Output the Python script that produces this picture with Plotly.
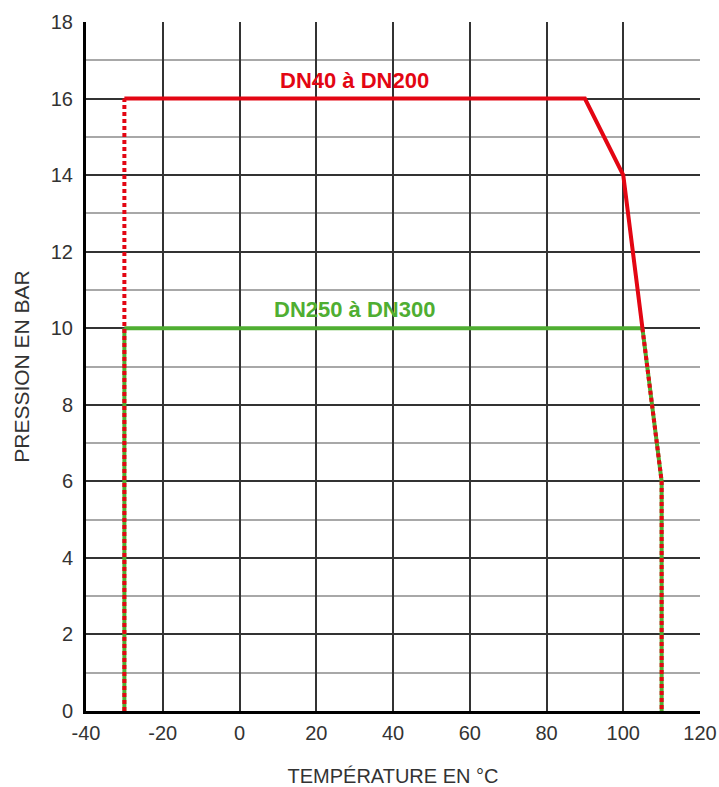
import plotly.graph_objects as go

# Data
red_temp = [-30, 90, 100, 105]
red_pres = [16, 16, 14, 10]
red_left_temp = [-30, -30]
red_left_pres = [0, 16]
red_right_temp = [105, 110, 110]
red_right_pres = [10, 6, 0]

green_temp = [-30, 105]
green_pres = [10, 10]
green_left_temp = [-30, -30]
green_left_pres = [0, 10]
green_right_temp = [105, 110, 110]
green_right_pres = [10, 6, 0]

x_ticks = [-40, -20, 0, 20, 40, 60, 80, 100, 120]
x_ticklabels = ["-40", "-20", "0", "20", "40", "60", "80", "100", "120"]
y_ticks = [0, 2, 4, 6, 8, 10, 12, 14, 16, 18]

RED = "#e30613"
GREEN = "#4fae32"
W = 4
DOT = "4px,3px"

fig = go.Figure()
fig.add_trace(go.Scatter(x=green_temp, y=green_pres, mode="lines",
                         line=dict(color=GREEN, width=W), showlegend=False))
fig.add_trace(go.Scatter(x=green_left_temp, y=green_left_pres, mode="lines",
                         line=dict(color=GREEN, width=W), showlegend=False))
fig.add_trace(go.Scatter(x=green_right_temp, y=green_right_pres, mode="lines",
                         line=dict(color=GREEN, width=W), showlegend=False))
fig.add_trace(go.Scatter(x=red_temp, y=red_pres, mode="lines",
                         line=dict(color=RED, width=W), showlegend=False))
fig.add_trace(go.Scatter(x=red_right_temp, y=red_right_pres, mode="lines",
                         line=dict(color=RED, width=W, dash=DOT), showlegend=False))
fig.add_trace(go.Scatter(x=red_left_temp, y=red_left_pres, mode="lines",
                         line=dict(color=RED, width=W, dash=DOT), showlegend=False))

fig.add_annotation(x=30, y=16, text="<b>DN40 à DN200</b>", showarrow=False,
                   yanchor="bottom", yshift=4, font=dict(family="Arial", size=22, color=RED))
fig.add_annotation(x=30, y=10, text="<b>DN250 à DN300</b>", showarrow=False,
                   yanchor="bottom", yshift=4, font=dict(family="Arial", size=22, color=GREEN))

fig.update_layout(
    width=719, height=787,
    margin=dict(l=86, r=19, t=22, b=76),
    paper_bgcolor="white", plot_bgcolor="white",
    font=dict(family="Arial", size=20, color="#333333"),
    xaxis=dict(range=[-40, 120], tickvals=x_ticks, ticktext=x_ticklabels, showgrid=True,
               gridcolor="#333333", gridwidth=1.5, zeroline=False,
               showline=True, linecolor="black", linewidth=3,
               ticks="", ticklabelstandoff=2, automargin=False,
               tickfont=dict(size=20, color="#333333"),
               title=dict(text="TEMPÉRATURE EN °C", font=dict(size=20, color="#333333"), standoff=27)),
    yaxis=dict(range=[0, 18], tickvals=y_ticks, showgrid=True,
               gridcolor="#333333", gridwidth=1.5, zeroline=False,
               showline=True, linecolor="black", linewidth=3,
               ticks="", ticklabelstandoff=6, automargin=False,
               tickfont=dict(size=20, color="#333333"),
               minor=dict(dtick=1, showgrid=True, gridcolor="#a8a8a8", gridwidth=1.5),
               title=dict(text="PRESSION EN BAR", font=dict(size=21, color="#333333"), standoff=16)),
)

fig.write_html("out.html", config={"displayModeBar": False},
               post_script="document.body.style.margin='0';")
